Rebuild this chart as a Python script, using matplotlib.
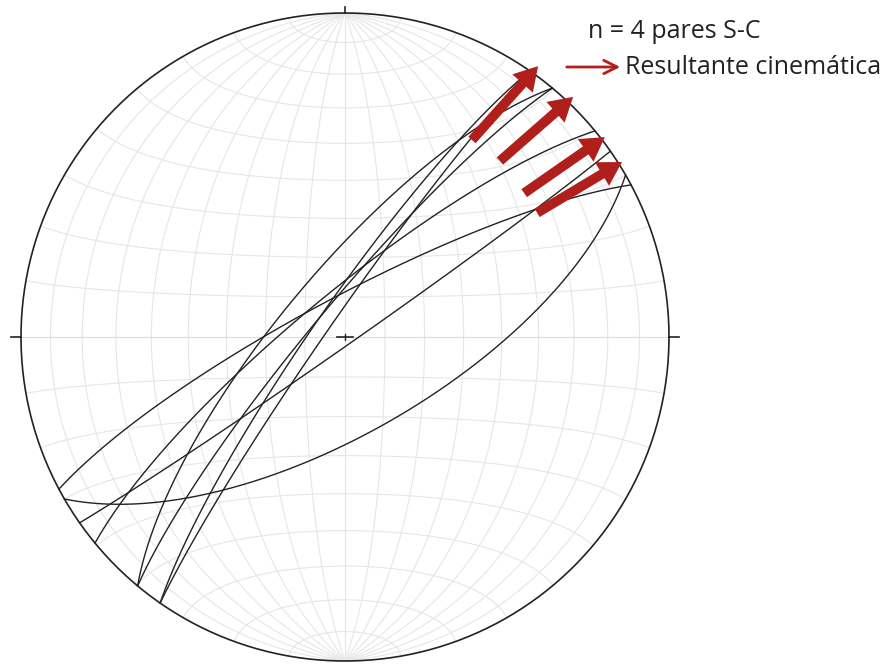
import numpy as np
import matplotlib.pyplot as plt
from matplotlib.patches import FancyArrow

# S-C planes (right-hand rule strike / dip, degrees)
strikes = [60, 242, 55, 230.5, 219.8, 219.8, 214.8, 214.8]
dips = [66, 80, 88, 79, 74, 82, 82, 85.5]

# kinematic resultant arrows, in net radius units (tail -> head)
arrow_x0 = [0.392, 0.478, 0.553, 0.593]
arrow_y0 = [0.608, 0.543, 0.444, 0.383]
arrow_x1 = [0.596, 0.704, 0.802, 0.855]
arrow_y1 = [0.836, 0.741, 0.617, 0.540]

legend_n = 'n = 4 pares S-C'
legend_arrow = 'Resultante cinemática'

red = '#b01f1c'
grid_col = '#e6e6e6'


def project(e, n, d):
    # lower hemisphere, equal area (Schmidt)
    k = 1 / np.sqrt(1 + d)
    return e * k, n * k


def great_circle(strike, dip):
    s = np.radians(strike)
    dd = np.radians(dip)
    rake = np.linspace(0, np.pi, 361)
    sv = np.array([np.sin(s), np.cos(s), 0.0])
    dv = np.array([np.cos(dd) * np.sin(s + np.pi / 2),
                   np.cos(dd) * np.cos(s + np.pi / 2),
                   np.sin(dd)])
    v = np.outer(np.cos(rake), sv) + np.outer(np.sin(rake), dv)
    return project(v[:, 0], v[:, 1], np.clip(v[:, 2], 0, 1))


def small_circle(a):
    # cone of half angle a around the N-S axis
    a = np.radians(a)
    phi = np.linspace(0, np.pi, 181)
    return project(np.sin(a) * np.cos(phi), np.full_like(phi, np.cos(a)),
                   np.sin(a) * np.sin(phi))


fig = plt.figure(figsize=(8.96, 6.64), dpi=100)
ax = fig.add_axes([0, 0, 1, 1])
R = 324.0
ax.set_xlim(-345 / R, (896 - 345) / R)
ax.set_ylim(-(664 - 337) / R, 337 / R)
ax.set_aspect('equal')
ax.axis('off')

# net grid, 10 degrees
for d in range(10, 90, 10):
    for s in (0, 180):
        x, y = great_circle(s, d)
        ax.plot(x, y, color=grid_col, lw=0.8, zorder=1)
x, y = great_circle(0, 90)
ax.plot(x, y, color=grid_col, lw=0.8, zorder=1)
for a in range(10, 180, 10):
    x, y = small_circle(a)
    ax.plot(x, y, color='#dcdcdc' if a == 90 else grid_col, lw=0.8, zorder=1)

# primitive and ticks
t = np.linspace(0, 2 * np.pi, 400)
ax.plot(np.cos(t), np.sin(t), color='#222222', lw=1.2, zorder=3)
ax.plot([-1.03, -1.0], [0, 0], color='#222222', lw=1.2)
ax.plot([1.0, 1.03], [0, 0], color='#222222', lw=1.2)
ax.plot([0, 0], [1.0, 1.02], color='#222222', lw=1.2)
ax.plot([-0.025, 0.025], [0, 0], color='#222222', lw=1.2)
ax.plot([0, 0], [-0.01, 0.01], color='#222222', lw=1.0)

# S-C planes
for s, d in zip(strikes, dips):
    x, y = great_circle(s, d)
    ax.plot(x, y, color='#222222', lw=1.0, zorder=4)

# resultant arrows
for x0, y0, x1, y1 in zip(arrow_x0, arrow_y0, arrow_x1, arrow_y1):
    ax.add_patch(FancyArrow(x0, y0, x1 - x0, y1 - y0, width=0.03,
                            head_width=0.085, head_length=0.072,
                            length_includes_head=True, color=red, lw=0, zorder=5))

# legend
ax.text((588 - 345) / R, (337 - 32) / R, legend_n, fontsize=18,
        family='Open Sans', va='center', ha='left', color='#222222')
ax.annotate('', xy=((623 - 345) / R, (337 - 67) / R), xytext=((564 - 345) / R, (337 - 67) / R),
            arrowprops=dict(arrowstyle='->', color=red, lw=2.0, mutation_scale=24))
ax.text((625 - 345) / R, (337 - 68) / R, legend_arrow, fontsize=18,
        family='Open Sans', va='center', ha='left', color='#222222')

fig.savefig('out.png', dpi=100, facecolor='white')
